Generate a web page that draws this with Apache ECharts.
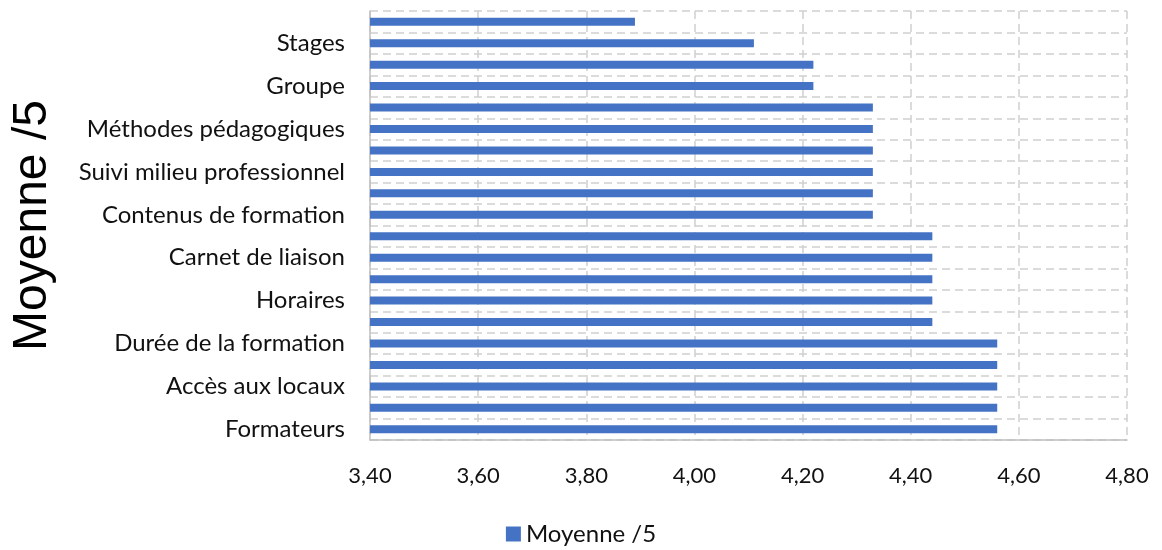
<!DOCTYPE html>
<html>
<head>
<meta charset="utf-8">
<script src="https://cdn.jsdelivr.net/npm/echarts@6/dist/echarts.min.js"></script>
<style>
html,body{margin:0;padding:0;background:#fff;}
#chart{width:1162px;height:550px;}
</style>
</head>
<body>
<div id="chart"></div>
<script>
// Categories from bottom to top (unlabelled bars in the reference have empty names)
const categories = [
  'Formateurs', '', 'Accès aux locaux', '', 'Durée de la formation', '',
  'Horaires', '', 'Carnet de liaison', '', 'Contenus de formation', '',
  'Suivi milieu professionnel', '', 'Méthodes pédagogiques', '', 'Groupe', '',
  'Stages', ''
];
const values = [
  4.56, 4.56, 4.56, 4.56, 4.56,
  4.44, 4.44, 4.44, 4.44, 4.44,
  4.33, 4.33, 4.33, 4.33, 4.33, 4.33,
  4.22, 4.22,
  4.11,
  3.89
];
const seriesName = 'Moyenne /5';
const axisTitle = 'Moyenne /5';

const chart = echarts.init(document.getElementById('chart'));
const fmt = v => v.toFixed(2).replace('.', ',');
chart.setOption({
  animation: false,
  textStyle: { fontFamily: 'Lato, "Open Sans", sans-serif' },
  grid: { left: 370, right: 35, top: 11, bottom: 110, containLabel: false, outerBoundsMode: 'none' },
  legend: {
    top: 517, left: 'center',
    itemWidth: 15, itemHeight: 15, icon: 'rect',
    textStyle: { fontSize: 24, color: '#111', fontFamily: 'Lato, sans-serif' },
    data: [seriesName]
  },
  xAxis: {
    type: 'value', min: 3.4, max: 4.8, interval: 0.2,
    axisLine: { show: true, onZero: false, lineStyle: { color: '#BFBFBF', width: 1.5 } },
    axisTick: { show: false },
    axisLabel: { formatter: fmt, fontSize: 22, color: '#111', margin: 25 },
    splitLine: { show: true, lineStyle: { color: '#D0D0D0', type: [8, 5], width: 1.5 } }
  },
  yAxis: {
    type: 'category', data: categories,
    name: axisTitle, nameLocation: 'middle', nameRotate: 90, nameGap: 313,
    nameTextStyle: { fontSize: 48, color: '#000', fontFamily: '"Liberation Sans", Arial, sans-serif' },
    axisLine: { show: true, lineStyle: { color: '#BFBFBF', width: 1.5 } },
    axisTick: { show: false },
    axisLabel: { interval: 0, fontSize: 24, color: '#111', margin: 25 },
    splitLine: { show: true, interval: 0, lineStyle: { color: '#D0D0D0', type: [8, 5], width: 1.5 } }
  },
  series: [{
    name: seriesName, type: 'bar', data: values,
    barWidth: 8,
    itemStyle: { color: '#4472C4' }
  }]
});
</script>
</body>
</html>
